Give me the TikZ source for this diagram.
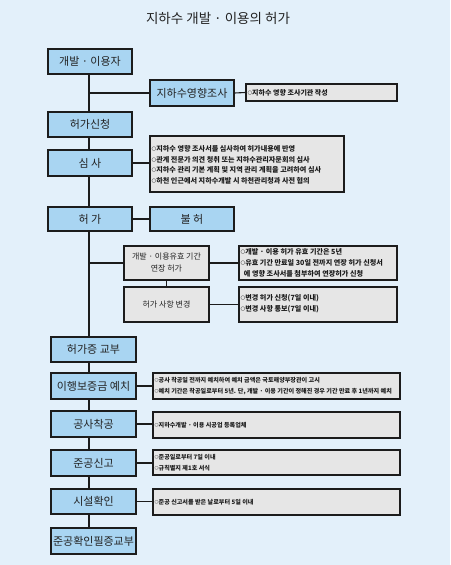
\documentclass[tikz,border=0pt]{standalone}
\usepackage{fontspec}
\setmainfont{Noto Sans CJK KR}
\newfontfamily\dvs{DejaVu Sans}
\definecolor{bg}{HTML}{E3F0FA}
\definecolor{boxblue}{HTML}{A9D5F2}
\definecolor{notegray}{HTML}{E6E6E6}
\definecolor{ink}{HTML}{1C1C1C}
\definecolor{txt}{HTML}{222222}
\newcommand\bul{\raisebox{0.25ex}{\dvs\scalebox{0.75}{○}}}
\tikzset{
  mainbox/.style={draw=ink, line width=1.1pt, fill=boxblue, inner sep=0pt, text=txt,
    font=\fontsize{11}{13}\selectfont, align=center},
  subbox/.style={draw=ink, line width=1.1pt, fill=notegray, inner sep=0pt, text=txt,
    font=\fontsize{8}{12}\selectfont, align=center},
  notebox/.style={draw=ink, line width=1.1pt, fill=notegray, inner sep=0pt},
  notetext/.style={anchor=west, inner sep=0pt, text=ink, align=left},
  conn/.style={draw=ink, line width=1.1pt}
}
\begin{document}
\begin{tikzpicture}[x=1pt, y=-1pt]
\fill[bg] (0,0) rectangle (450,565);
\useasboundingbox (0,0) rectangle (450,565);
\node[text=txt, font=\fontsize{13.5}{16}\selectfont] (title) at (218,18) {지하수 개발 · 이용의 허가};
\coordinate (sp) at (89,0);
% main column
\node[mainbox, minimum width=84pt, minimum height=25pt] (user) at (90,61.5) {개발 · 이용자};
\node[mainbox, minimum width=84pt, minimum height=26pt] (survey) at (192,93) {지하수영향조사};
\node[notebox, minimum width=151pt, minimum height=17pt] (note1) at (321.5,92.5) {};
\node[notetext, font=\fontsize{7}{10}\selectfont\bfseries] (t1) at ([xshift=2pt]note1.west) {\bul 지하수 영향 조사기관 작성};
\node[mainbox, minimum width=84pt, minimum height=25pt] (apply) at (90,124.5) {허가신청};
\node[mainbox, minimum width=84pt, minimum height=26pt] (review) at (90,163) {심 사};
\node[notebox, minimum width=194pt, minimum height=56pt] (note2) at (247,164) {};
\node[notetext, font=\fontsize{7.1}{10.5}\selectfont\bfseries] (t2) at ([xshift=2pt,yshift=-1pt]note2.west) {\bul 지하수 영향 조사서를 심사하여 허가내용에 반영\\\bul 관계 전문가 의견 청취 또는 지하수관리자문회의 심사\\\bul 지하수 관리 기본 계획 및 지역 관리 계획을 고려하여 심사\\\bul 하천 인근에서 지하수개발 시 하천관리청과 사전 협의};
\node[mainbox, minimum width=84pt, minimum height=24pt] (permit) at (90,219) {허 가};
\node[mainbox, minimum width=84pt, minimum height=24pt] (deny) at (192,219) {불 허};
\node[subbox, minimum width=85pt, minimum height=34pt] (ext) at (166.5,263) {개발 · 이용유효 기간\\연장 허가};
\node[subbox, minimum width=85pt, minimum height=35pt] (chg) at (166.5,304.5) {허가 사항 변경};
\node[notebox, minimum width=158pt, minimum height=34pt] (noteA) at (318,263) {};
\node[notetext, font=\fontsize{7.1}{10.8}\selectfont\bfseries] (tA) at ([xshift=2pt]noteA.west) {\bul 개발 · 이용 허가 유효 기간은 5년\\\bul 유효 기간 만료일 30일 전까지 연장 허가 신청서\\\ \ 에 영향 조사서를 첨부하여 연장허가 신청};
\node[notebox, minimum width=158pt, minimum height=35pt] (noteB) at (318,304.5) {};
\node[notetext, font=\fontsize{7.1}{10.5}\selectfont\bfseries] (tB) at ([xshift=2pt,yshift=1pt]noteB.west) {\bul 변경 허가 신청(7일 이내)\\\bul 변경 사항 통보(7일 이내)};
\node[mainbox, minimum width=85pt, minimum height=25pt] (issue) at (93.5,349.5) {허가증 교부};
\node[mainbox, minimum width=85pt, minimum height=26pt] (deposit) at (93.5,386) {이행보증금 예치};
\node[notebox, minimum width=247pt, minimum height=26pt] (noteD) at (276.5,386) {};
\node[notetext, font=\fontsize{6.1}{11}\selectfont\bfseries] (tD) at ([xshift=2pt]noteD.west) {\bul 공사 착공일 전까지 예치하여 예치 금액은 국토해양부장관이 고시\\\bul 예치 기간은 착공일로부터 5년. 단, 개발 · 이용 기간이 정해진 경우 기간 만료 후 1년까지 예치};
\node[mainbox, minimum width=85pt, minimum height=26pt] (start) at (93.5,424) {공사착공};
\node[notebox, minimum width=247pt, minimum height=26pt] (noteS) at (276.5,425) {};
\node[notetext, font=\fontsize{6.1}{11}\selectfont\bfseries] (tS) at ([xshift=2pt]noteS.west) {\bul 지하수개발 · 이용 시공업 등록업체};
\node[mainbox, minimum width=85pt, minimum height=26pt] (report) at (93.5,463) {준공신고};
\node[notebox, minimum width=247pt, minimum height=25pt] (noteR) at (276.5,462.5) {};
\node[notetext, font=\fontsize{6.1}{11}\selectfont\bfseries] (tR) at ([xshift=2pt]noteR.west) {\bul 준공일로부터 7일 이내\\\bul 규칙별지 제1호 서식};
\node[mainbox, minimum width=85pt, minimum height=25pt] (confirm) at (93.5,501.5) {시설확인};
\node[notebox, minimum width=247pt, minimum height=26pt] (noteC) at (276.5,502) {};
\node[notetext, font=\fontsize{6.1}{11}\selectfont\bfseries] (tC) at ([xshift=2pt]noteC.west) {\bul 준공 신고서를 받은 날로부터 5일 이내};
\node[mainbox, minimum width=85pt, minimum height=26pt] (final) at (93.5,541) {준공확인필증교부};
% spine
\draw[conn] (user.south -| sp) -- (apply.north -| sp);
\draw[conn] (apply.south -| sp) -- (review.north -| sp);
\draw[conn] (review.south -| sp) -- (permit.north -| sp);
\draw[conn] (permit.south -| sp) -- (issue.north -| sp);
\draw[conn] (issue.south -| sp) -- (deposit.north -| sp);
\draw[conn] (deposit.south -| sp) -- (start.north -| sp);
\draw[conn] (start.south -| sp) -- (report.north -| sp);
\draw[conn] (report.south -| sp) -- (confirm.north -| sp);
\draw[conn] (confirm.south -| sp) -- (final.north -| sp);
% branches
\draw[conn] (sp |- survey.west) -- (survey.west);
\draw[conn] (survey.east) -- (note1.west);
\draw[conn] (review.east) -- (note2.west |- review.east);
\draw[conn] (permit.east) -- (deny.west);
\draw[conn] (sp |- ext.west) -- (ext.west);
\draw[conn] (ext.south) -- (chg.north);
\draw[conn] (ext.east) -- (noteA.west);
\draw[conn] (chg.east) -- (noteB.west);
\draw[conn] (deposit.east) -- (noteD.west);
\draw[conn] (start.east) -- (noteS.west |- start.east);
\draw[conn] (report.east) -- (noteR.west |- report.east);
\draw[conn] (confirm.east) -- (noteC.west |- confirm.east);
\end{tikzpicture}
\end{document}
